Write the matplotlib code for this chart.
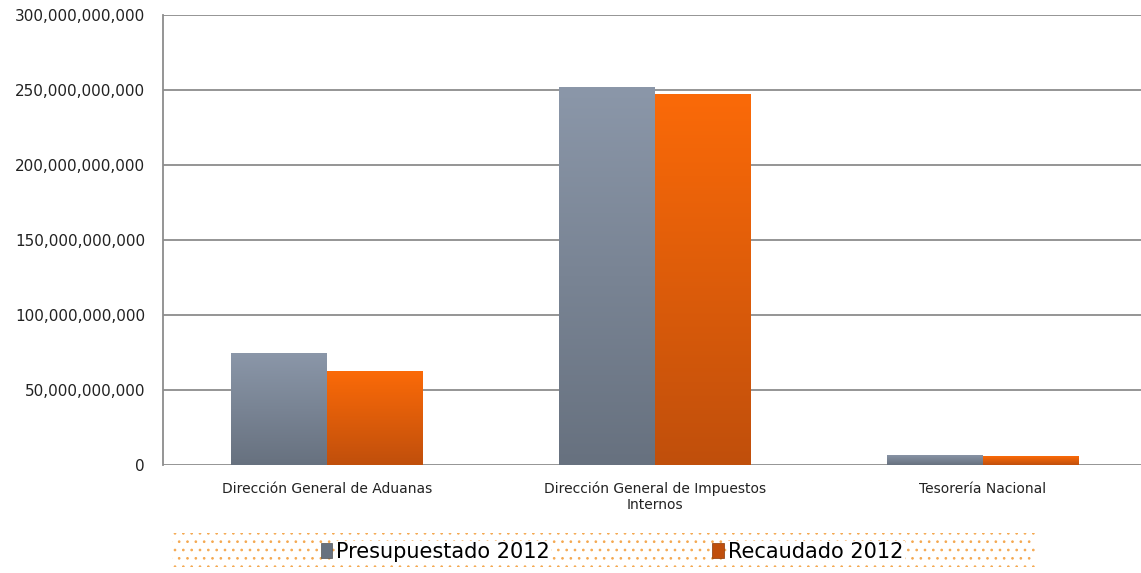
import numpy as np
import matplotlib.pyplot as plt
from matplotlib.patches import Rectangle, Patch
from matplotlib.ticker import FuncFormatter
import matplotlib as mpl

categories = ["Dirección General de Aduanas",
              "Dirección General de Impuestos\nInternos",
              "Tesorería Nacional"]
presupuestado = [75e9, 252e9, 7e9]
recaudado = [62.5e9, 247.5e9, 6e9]
series = ["Presupuestado 2012", "Recaudado 2012"]
yticks = [0, 50e9, 100e9, 150e9, 200e9, 250e9, 300e9]

gray_top, gray_bot = "#8b97a9", "#67717f"
orange_top, orange_bot = "#fb6a08", "#c04f0c"

fig = plt.figure(figsize=(11.41, 5.73), dpi=100)
ax = fig.add_axes([163 / 1141, 108 / 573, 978 / 1141, 450 / 573])

x = np.arange(len(categories))
w = 0.292


def gradient_bars(xs, vals, top, bot):
    bars = ax.bar(xs, vals, width=w, color=bot, edgecolor="none", zorder=3)
    cmap = mpl.colors.LinearSegmentedColormap.from_list("g", [bot, top])
    grad = np.linspace(0, 1, 256).reshape(-1, 1)
    for b in bars:
        x0, y0 = b.get_x(), b.get_y()
        im = ax.imshow(grad, cmap=cmap, aspect="auto", origin="lower",
                       extent=[x0, x0 + b.get_width(), y0, y0 + b.get_height()],
                       zorder=4)
        im.set_clip_path(b)
    return bars


gradient_bars(x - w / 2, presupuestado, gray_top, gray_bot)
gradient_bars(x + w / 2, recaudado, orange_top, orange_bot)

ax.set_xlim(-0.5, -0.5 + 978 / 328)
ax.set_ylim(0, 300e9)
ax.set_yticks(yticks)
ax.yaxis.set_major_formatter(FuncFormatter(lambda v, p: f"{v:,.0f}"))
ax.yaxis.grid(True, color="#8c8c8c", linewidth=1.3, zorder=0)
ax.set_axisbelow(True)
ax.set_xticks(x)
ax.set_xticklabels(categories, fontsize=10, color="#222222")
ax.tick_params(axis="x", length=0, pad=12)
ax.tick_params(axis="y", length=0, pad=13, labelsize=11, labelcolor="#222222")
for s in ["top", "right", "bottom"]:
    ax.spines[s].set_visible(False)
ax.spines["left"].set_color("#8c8c8c")
ax.spines["left"].set_linewidth(1.3)

# dotted legend background
mpl.rcParams["hatch.linewidth"] = 0.7
bg = Rectangle((172 / 1141, 6 / 573), 863 / 1141, 34 / 573, transform=fig.transFigure,
               facecolor="white", edgecolor="#f4a850", hatch="..", linewidth=0)
fig.patches.append(bg)

handles = [Patch(facecolor=gray_bot, edgecolor="#555555", linewidth=0.5),
           Patch(facecolor=orange_bot, edgecolor="#8a3a08", linewidth=0.5)]
leg = fig.legend(handles, series, loc="center", bbox_to_anchor=(612 / 1141, 21 / 573),
                 ncol=2, frameon=False, fontsize=15, handlelength=0.55, handleheight=0.75,
                 handletextpad=0.2, columnspacing=7.8)
for t in leg.get_texts():
    t.set_bbox(dict(facecolor="white", edgecolor="none", pad=1))

fig.savefig("out.png", dpi=100)
